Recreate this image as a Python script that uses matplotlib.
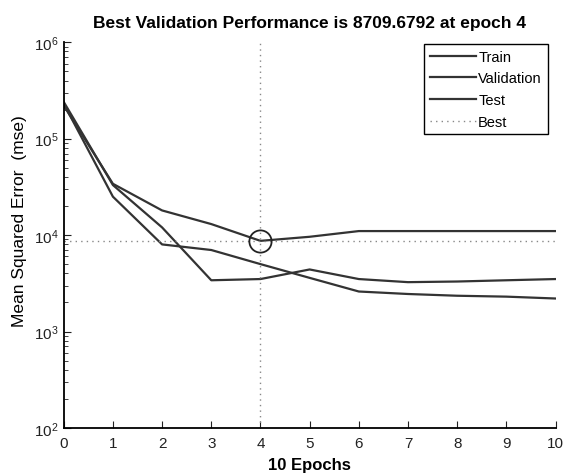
import numpy as np
import matplotlib.pyplot as plt

plt.rcParams['font.family'] = ['Liberation Sans', 'DejaVu Sans']

# ====== DATA ======
epochs = [0, 1, 2, 3, 4, 5, 6, 7, 8, 9, 10]
train_mse = [2.3e5, 2.5e4, 8.0e3, 7.0e3, 5.0e3, 3.6e3, 2.6e3, 2.45e3, 2.35e3, 2.3e3, 2.2e3]
val_mse = [2.2e5, 3.4e4, 1.8e4, 1.3e4, 8709.6792, 9.6e3, 1.1e4, 1.1e4, 1.1e4, 1.1e4, 1.1e4]
test_mse = [2.4e5, 3.3e4, 1.2e4, 3.4e3, 3.5e3, 4.4e3, 3.5e3, 3.25e3, 3.3e3, 3.4e3, 3.5e3]
best_epoch = 4
best_perf = 8709.6792

# ====== PLOT ======
fig = plt.figure(figsize=(5.64, 4.77), dpi=100)
ax = fig.add_axes([0.113, 0.1006, 0.872, 0.809])

line_col = '#333333'
ax.plot(epochs, train_mse, color=line_col, lw=1.6, label='Train')
ax.plot(epochs, val_mse, color=line_col, lw=1.6, label='Validation')
ax.plot(epochs, test_mse, color=line_col, lw=1.6, label='Test')
ax.plot([0, 10], [best_perf, best_perf], color='#888888', lw=1.0, ls=(0, (1, 3)), label='Best')
ax.plot([best_epoch, best_epoch], [1e2, 1e6], color='#888888', lw=1.0, ls=(0, (1, 3)))
ax.plot(best_epoch, best_perf, 'o', mfc='none', mec='#222222', ms=16, mew=1.3)

ax.set_yscale('log')
ax.set_xlim(0, 10)
ax.set_ylim(1e2, 1e6)
ax.set_xticks(epochs)

ax.spines['top'].set_visible(False)
ax.spines['right'].set_visible(False)
ax.spines['left'].set_linewidth(1.3)
ax.spines['bottom'].set_linewidth(1.3)
ax.tick_params(direction='in', which='both', labelsize=11, colors='#222222')
ax.tick_params(axis='x', pad=6)
ax.tick_params(which='major', length=5)
ax.tick_params(which='minor', length=3)

ax.set_title('Best Validation Performance is 8709.6792 at epoch 4',
             fontsize=12.5, fontweight='bold', pad=11)
ax.set_xlabel('10 Epochs', fontsize=12, fontweight='bold', labelpad=5)
ax.set_ylabel('Mean Squared Error  (mse)', fontsize=12.5)
ax.yaxis.set_label_coords(-0.075, 0.54)

leg = ax.legend(loc='upper right', bbox_to_anchor=(0.984, 0.995), fancybox=False,
                edgecolor='black', fontsize=10.5, handlelength=3.15, handletextpad=0.15,
                borderaxespad=0, labelspacing=0.52, framealpha=1)
leg.get_frame().set_linewidth(1.0)

fig.savefig('out.png', dpi=100)
